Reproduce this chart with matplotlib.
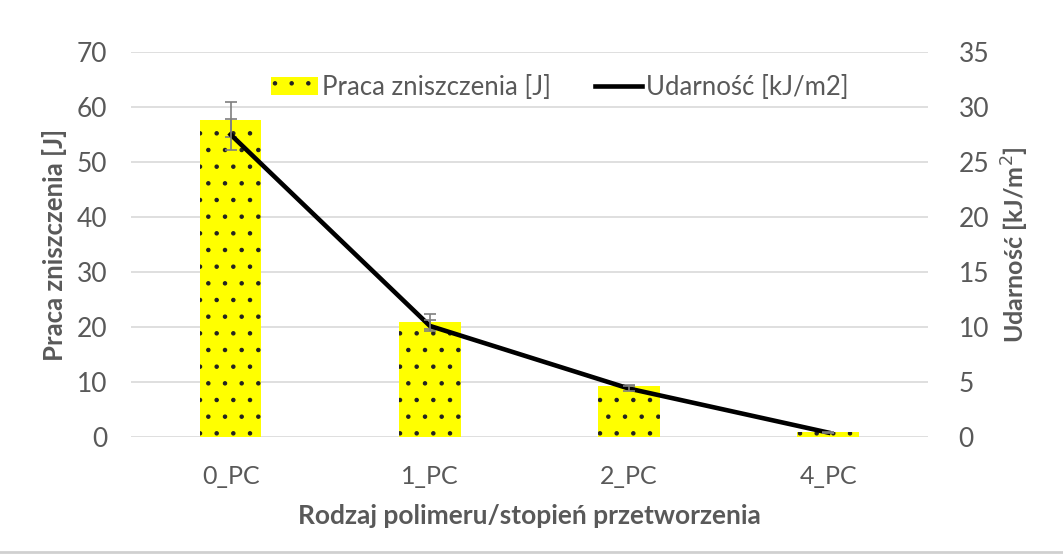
import matplotlib.pyplot as plt
import matplotlib.lines as mlines
import numpy as np

plt.rcParams['font.family'] = ['Lato', 'DejaVu Sans']
plt.rcParams['hatch.linewidth'] = 0.8
plt.rcParams['hatch.color'] = '#222222'

# data
kategorie = ['0_PC', '1_PC', '2_PC', '4_PC']
praca = [57.7, 21.0, 9.2, 0.9]
praca_err = [3.2, 1.3, 0.3, 0.1]
udarnosc = [27.5, 10.1, 4.4, 0.4]
udarnosc_err = [1.4, 0.5, 0.2, 0.05]

grey = '#595959'
x = np.arange(len(kategorie))

fig = plt.figure(figsize=(10.63, 5.56), dpi=100)
ax1 = fig.add_axes([0.1232, 0.214, 0.7498, 0.6925])

bars = ax1.bar(x, praca, width=0.31, color='#FFFF00', edgecolor='#222222', linewidth=0,
               hatch='.', label='Praca zniszczenia [J]', zorder=2)
ax1.errorbar(x, praca, yerr=praca_err, fmt='none', ecolor='#7f7f7f',
             elinewidth=1.2, capsize=4, capthick=1.2, zorder=3)
ax1.set_ylim(0, 70)
ax1.set_yticks(range(0, 71, 10))
ax1.set_xlim(-0.5, len(kategorie) - 0.5)
ax1.set_xticks(x)
ax1.set_xticklabels(kategorie)
ax1.grid(axis='y', color='#d9d9d9', linewidth=1.2, zorder=0)
ax1.set_axisbelow(True)
ax1.set_ylabel('Praca zniszczenia [J]', fontsize=18.5, fontweight='bold', color=grey, labelpad=7)
ax1.set_xlabel('Rodzaj polimeru/stopień przetworzenia', fontsize=19, fontweight='bold',
               color=grey, labelpad=12)

ax2 = ax1.twinx()
ax2.plot(x, udarnosc, color='black', linewidth=3.3, label='Udarność [kJ/m2]', zorder=4)
ax2.errorbar(x, udarnosc, yerr=udarnosc_err, fmt='none', ecolor='#7f7f7f',
             elinewidth=1.2, capsize=4, capthick=1.2, zorder=5)
ax2.set_ylim(0, 35)
ax2.set_yticks(range(0, 36, 5))
ax2.set_ylabel('Udarność [kJ/m$^2$]', fontsize=18, fontweight='bold', color=grey, labelpad=8)

for ax in (ax1, ax2):
    for s in ax.spines.values():
        s.set_visible(False)
    ax.tick_params(length=0, labelsize=19, colors=grey, pad=17)
ax1.tick_params(axis='x', labelsize=18, pad=20)
ax2.tick_params(axis='y', pad=22)

line_handle = mlines.Line2D([], [], color='black', linewidth=3.3)
leg = ax1.legend([bars, line_handle], ['Praca zniszczenia [J]', 'Udarność [kJ/m2]'],
                 loc='upper center', bbox_to_anchor=(0.538, 1.0), ncol=2, frameon=False,
                 fontsize=18.5, handlelength=1.85, handletextpad=0.15, columnspacing=1.7,
                 labelcolor=grey)

fig.add_artist(mlines.Line2D([0, 1], [0.007, 0.007], color='#d0d0d0', linewidth=2,
                             transform=fig.transFigure))

fig.savefig('out.png', dpi=100)
